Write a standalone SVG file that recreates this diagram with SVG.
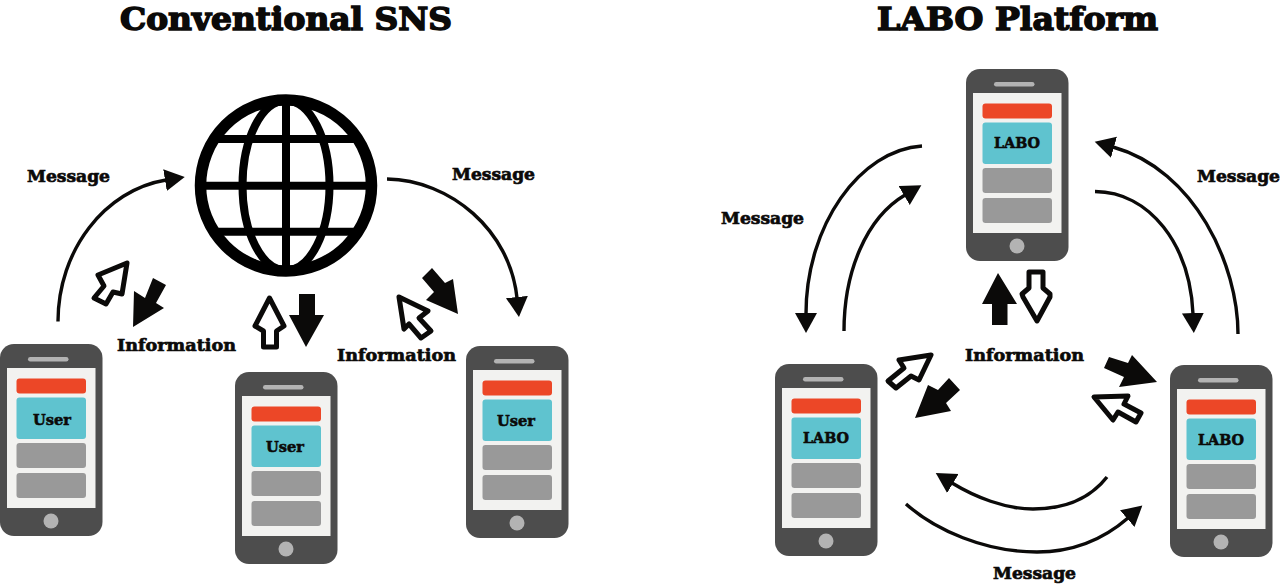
<svg xmlns="http://www.w3.org/2000/svg" width="1280" height="588" viewBox="0 0 1280 588">
<style>
text{font-family:"DejaVu Serif","Liberation Serif",serif;font-weight:700;fill:#0b0a09;stroke:#0b0a09;stroke-width:.7;text-anchor:start}
.title{font-size:31px;stroke-width:1.5}
.lab{font-size:17.5px}
.in{font-size:14.5px;stroke-width:.55}
.con{fill:none;stroke:#0b0a09;stroke-width:3.4}
.fill{fill:#0b0a09}
.out{fill:#fff;stroke:#0b0a09;stroke-width:5;stroke-linejoin:round}
.globe{fill:none;stroke:#000}
</style>
<defs>
<marker id="ah" markerUnits="userSpaceOnUse" markerWidth="22" markerHeight="24" refX="1" refY="11" orient="auto">
<path d="M0,0L20,11L0,22z" fill="#0b0a09"/>
</marker>
<g id="phone">
<rect x="0" y="0" width="102.500" height="192" rx="14" fill="#4d4d4d"/>
<rect x="7" y="24" width="88.500" height="140" fill="#f2f2f0"/>
<rect x="28" y="13" width="40.500" height="4.500" rx="2.200" fill="#b3b3b3"/>
<circle cx="51" cy="177" r="7.500" fill="#b3b3b3"/>
<rect x="16.500" y="34.500" width="69.500" height="15" rx="3" fill="#ec4727"/>
<rect x="16.500" y="53.500" width="69.500" height="41.500" rx="3" fill="#5fc3cf"/>
<rect x="16.500" y="99" width="69.500" height="25" rx="3" fill="#999"/>
<rect x="16.500" y="129" width="69.500" height="25" rx="3" fill="#999"/>
</g>
</defs>
<rect width="1280" height="588" fill="#fff"/>

<text class="title" x="120" y="30" textLength="332" lengthAdjust="spacingAndGlyphs">Conventional SNS</text>
<text class="title" x="877" y="30" textLength="281" lengthAdjust="spacingAndGlyphs">LABO Platform</text>

<g id="globe" class="globe">
<circle cx="286" cy="185.500" r="85.500" stroke-width="11.500"/>
<ellipse cx="286" cy="185.500" rx="43.500" ry="85" stroke-width="8"/>
<path d="M286,98V273M199,185.700H373M218,139H354M218,231.700H354" stroke-width="8"/>
</g>

<g id="phone-user-1"><use href="#phone" x="0" y="344"/><text class="in" x="33" y="425" textLength="38" lengthAdjust="spacingAndGlyphs">User</text></g>
<g id="phone-user-2"><use href="#phone" x="235" y="372"/><text class="in" x="266" y="452" textLength="38" lengthAdjust="spacingAndGlyphs">User</text></g>
<g id="phone-user-3"><use href="#phone" x="466" y="346"/><text class="in" x="497" y="426" textLength="38" lengthAdjust="spacingAndGlyphs">User</text></g>
<g id="phone-labo-top"><use href="#phone" x="966" y="69"/><text class="in" x="994" y="148" textLength="46" lengthAdjust="spacingAndGlyphs">LABO</text></g>
<g id="phone-labo-left"><use href="#phone" x="775" y="364"/><text class="in" x="803" y="443" textLength="46" lengthAdjust="spacingAndGlyphs">LABO</text></g>
<g id="phone-labo-right"><use href="#phone" x="1170" y="365"/><text class="in" x="1198" y="445" textLength="46" lengthAdjust="spacingAndGlyphs">LABO</text></g>

<g id="connectors">
<path class="con" marker-end="url(#ah)" d="M58,321.500C58,250 105,190 166,180"/>
<path class="con" marker-end="url(#ah)" d="M387,179C450,180 510,230 517,298"/>
<path class="con" marker-end="url(#ah)" d="M922,146C860,150 806,225 806,314"/>
<path class="con" marker-end="url(#ah)" d="M844,331C844,272 866,218 905,195"/>
<path class="con" marker-end="url(#ah)" d="M1095,191.500C1150,192 1190,245 1193,314"/>
<path class="con" marker-end="url(#ah)" d="M1238,334C1238,265 1195,170 1113,147"/>
<path class="con" marker-end="url(#ah)" d="M1107,477C1085,505 1055,509 1033,509C1005,509 975,497 952,483"/>
<path class="con" marker-end="url(#ah)" d="M906,504C935,530 985,552 1037,552C1075,552 1105,538 1128,518"/>

<polygon class="fill" points="133,327 134,291 145,298 153,278 166,285 156,303 164,308"/>
<polygon class="out" points="127,263 98,275 104,286 94,298 106,304 113,292 122,294"/>
<polygon class="fill" points="299,294 315,294 315,315 324,315 306,347 289,315 299,315"/>
<polygon class="out" points="269.500,298 284,326 276.500,331 276.500,347 263.500,347 263.500,331 255,326"/>
<polygon class="fill" points="458,314 453,279 445,283 432,268 422,278 434,292 426,300"/>
<polygon class="out" points="399,297 428,311 419,318 431,331 421,338 409,324 404,329"/>
<polygon class="fill" points="998,273 1017,304 1007.500,304 1007.500,325 992,325 992,304 982,304"/>
<polygon class="out" points="1029,272 1043,272 1043,288 1050,294 1050,297 1037,321 1023,297 1022,294 1029,288"/>
<polygon class="fill" points="915,418 928,385 938,390 949,378 960,390 946,403 951,411"/>
<polygon class="out" points="931,355 899,360 904,368 888,381 896,388 911,376 919,380"/>
<polygon class="fill" points="1157,382 1132,355 1128,363 1109,357 1104,368 1124,377 1119,387"/>
<polygon class="out" points="1094,397 1128,396 1124,404 1141,413 1136,422 1118,412 1113,420"/>
</g>

<g id="labels">
<text class="lab" x="27" y="182" textLength="83" lengthAdjust="spacingAndGlyphs">Message</text>
<text class="lab" x="452" y="180" textLength="83" lengthAdjust="spacingAndGlyphs">Message</text>
<text class="lab" x="117" y="351" textLength="119" lengthAdjust="spacingAndGlyphs">Information</text>
<text class="lab" x="337" y="361" textLength="119" lengthAdjust="spacingAndGlyphs">Information</text>
<text class="lab" x="965" y="361" textLength="119" lengthAdjust="spacingAndGlyphs">Information</text>
<text class="lab" x="721" y="224" textLength="83" lengthAdjust="spacingAndGlyphs">Message</text>
<text class="lab" x="1197" y="182" textLength="83" lengthAdjust="spacingAndGlyphs">Message</text>
<text class="lab" x="993" y="579" textLength="83" lengthAdjust="spacingAndGlyphs">Message</text>
</g>
</svg>
